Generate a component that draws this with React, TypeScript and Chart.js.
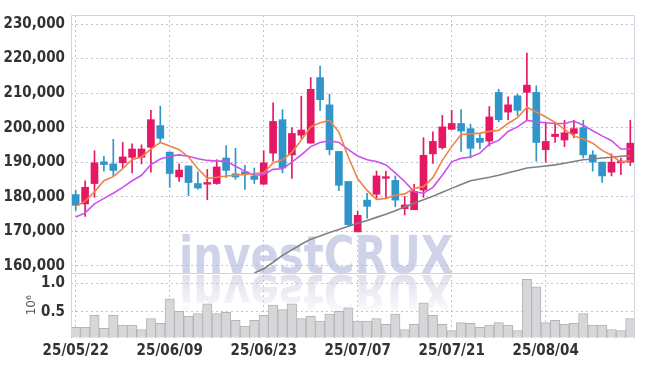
import { useEffect, useRef } from 'react';
import { Chart, registerables } from 'chart.js';
Chart.register(...registerables);

const dates = ['25/05/22','25/05/23','25/05/26','25/05/27','25/05/28','25/05/29','25/05/30','25/06/02','25/06/04','25/06/05',
'25/06/09','25/06/10','25/06/11','25/06/12','25/06/13','25/06/16','25/06/17','25/06/18','25/06/19','25/06/20',
'25/06/23','25/06/24','25/06/25','25/06/26','25/06/27','25/06/30','25/07/01','25/07/02','25/07/03','25/07/04',
'25/07/07','25/07/08','25/07/09','25/07/10','25/07/11','25/07/14','25/07/15','25/07/16','25/07/17','25/07/18',
'25/07/21','25/07/22','25/07/23','25/07/24','25/07/25','25/07/28','25/07/29','25/07/30','25/07/31','25/08/01',
'25/08/04','25/08/05','25/08/06','25/08/07','25/08/08','25/08/11','25/08/12','25/08/13','25/08/14','25/08/18'];

const opens = [180600,177900,183800,190100,189500,189800,191400,191400,194300,200600,
192900,185700,188900,183800,183600,183800,191200,186600,187200,186000,
183600,192600,202300,192100,197800,195500,214500,206600,193100,184400,
169800,179000,180700,185300,184700,176500,176200,181900,192400,194200,
199500,201200,199700,196900,196100,210200,204500,209200,210200,210200,
193600,197400,196400,198300,200000,192100,190000,187100,189800,190000];

const highs = [181900,184600,193300,191700,196600,195700,195300,195000,205000,206200,
192900,189500,188900,187200,187900,190700,194800,194000,189100,188300,
193300,207200,205200,200000,209100,214500,217800,209700,193100,184400,
175800,181000,187400,187400,186000,180100,183600,197100,198800,203500,
205000,205200,201000,198100,206100,211100,208900,209700,221600,212100,
201400,201400,202100,202100,202100,193300,190000,192400,191200,202100];

const lows = [176000,174300,179800,187400,186000,188300,186900,189500,187100,196000,
182700,184400,180300,182200,179100,183600,185500,185000,182100,183800,
183600,190300,186900,185300,196900,195500,205000,192100,181700,171300,
169800,173800,179500,179500,177100,174700,176200,179800,189600,193800,
199500,193100,191200,193800,194700,201700,202300,203500,202100,190300,
190000,195700,194500,197100,191200,187400,184100,186000,186400,189000];

const closes = [177500,182700,189800,189300,187600,191500,193800,193800,202300,196900,
186700,187700,184100,182500,184100,188600,187600,185700,186400,185000,
189800,201800,188300,198300,199300,211100,208100,193600,183300,171900,
174600,177200,186000,185800,179000,177600,181500,192000,196000,200200,
201200,199000,194000,195700,203100,202300,206600,205000,212300,195700,
196000,198100,198500,199700,192100,190000,186000,190000,190300,195500];

const ma5 = [177200,178700,181400,184600,185800,188100,190700,191500,193800,195700,
194700,193600,191500,188100,185300,185600,186000,186200,186400,186700,
186900,189800,190700,192800,196400,200200,201400,202100,198700,191500,
185200,181800,179200,179500,180400,180800,182400,182900,185500,190500,
194500,198000,198200,198400,198900,199200,201200,202900,205900,204500,
203100,201500,199500,197600,196700,195500,193400,192000,190000,190500];

const ma10 = [174100,175300,177900,179500,181000,182700,184600,186200,189300,190900,
191700,192100,191700,191000,190500,190300,190300,188800,187400,186200,
186400,187900,188100,190000,192100,194500,195700,196200,195700,193600,
191800,190700,190200,189200,186900,184400,181400,181000,182700,186200,
190100,191100,191500,192600,195200,196300,198900,200200,202100,201700,
201400,201200,201200,201900,200700,199100,197600,196200,193800,193800];

const ma60 = [null,null,null,null,null,null,null,null,null,null,
null,null,null,null,null,null,null,null,null,157900,
159100,161000,163000,164600,166200,167700,168600,169600,170500,171400,
172300,173100,174000,174900,175900,177000,178100,179100,180100,181300,
182400,183500,184600,185100,185600,186200,186900,187600,188300,188600,
188900,189200,189700,190200,190700,190900,191200,191400,191700,191900];

// volume in millions (10^6)
const volumes = [0.23,0.23,0.44,0.21,0.44,0.27,0.27,0.19,0.38,0.30,
0.73,0.51,0.42,0.47,0.64,0.47,0.49,0.35,0.25,0.35,
0.44,0.62,0.54,0.64,0.38,0.42,0.34,0.46,0.51,0.57,
0.34,0.34,0.38,0.28,0.46,0.19,0.28,0.66,0.44,0.28,
0.17,0.31,0.30,0.23,0.27,0.31,0.27,0.17,1.07,0.94,
0.31,0.35,0.28,0.30,0.47,0.27,0.27,0.19,0.17,0.38];

const priceTicks = [160000,170000,180000,190000,200000,210000,220000,230000];
const volumeTicks = [0.5,1.0];

const UP = 'rgb(230,24,100)';
const DOWN = 'rgb(48,150,202)';
const GRID = 'rgba(185,190,215,0.9)';
const FRAME = '#d2d3dc';
const FONT = '"Liberation Sans Narrow", "DejaVu Sans Condensed", "Roboto Condensed", sans-serif';

const overlayPlugin = {
  id: 'overlay',
  beforeDatasetsDraw(chart: any) {
    const { ctx, chartArea } = chart;
    const yScale = chart.scales.y;
    const base = yScale.bottom;
    const text = 'investCRUX';
    ctx.save();
    ctx.beginPath();
    ctx.rect(chartArea.left, chartArea.top, chartArea.right - chartArea.left, chartArea.bottom - chartArea.top);
    ctx.clip();
    ctx.font = 'bold 52px "DejaVu Sans", sans-serif';
    ctx.textBaseline = 'alphabetic';
    ctx.textAlign = 'left';
    const w = ctx.measureText(text).width;
    const targetW = 274;
    const sx = targetW / w;
    const x0 = chartArea.left + 108;
    ctx.save();
    ctx.translate(x0, base - 0.5);
    ctx.scale(sx, 1);
    ctx.fillStyle = 'rgba(170,180,218,0.58)';
    ctx.fillText(text, 0, 0);
    ctx.restore();
    ctx.save();
    ctx.translate(x0, base + 1.5);
    ctx.scale(sx, -1);
    const g = ctx.createLinearGradient(0, 0, 0, -40);
    g.addColorStop(0, 'rgba(190,192,215,0.5)');
    g.addColorStop(0.75, 'rgba(200,200,222,0.2)');
    g.addColorStop(1, 'rgba(210,210,230,0.0)');
    ctx.fillStyle = g;
    ctx.fillText(text, 0, 0);
    ctx.restore();
    ctx.restore();
  },
  afterDraw(chart: any) {
    const { ctx, chartArea } = chart;
    const yScale = chart.scales.y;
    ctx.save();
    ctx.strokeStyle = FRAME;
    ctx.lineWidth = 1;
    ctx.beginPath();
    const L = Math.round(chartArea.left) + 0.5;
    const R = Math.round(chartArea.right) - 0.5;
    const T = Math.round(chartArea.top) + 0.5;
    const B = Math.round(chartArea.bottom) - 0.5;
    const S = Math.round(yScale.bottom) + 0.5;
    ctx.moveTo(L, B); ctx.lineTo(L, T); ctx.lineTo(R, T); ctx.lineTo(R, B);
    ctx.moveTo(L, S); ctx.lineTo(R, S);
    ctx.stroke();
    ctx.restore();
  },
};

export default function App() {
  const ref = useRef<HTMLCanvasElement | null>(null);
  useEffect(() => {
    if (!ref.current) return;
    const colors = opens.map((o, i) => (closes[i] >= o ? UP : DOWN));
    const bodies = opens.map((o, i) => [Math.min(o, closes[i]), Math.max(o, closes[i])]);
    const wicks = lows.map((l, i) => [l, highs[i]]);
    const tickFont = { family: FONT, size: 15, weight: 'bold' as const };
    const chart = new Chart(ref.current, {
      type: 'bar',
      data: {
        labels: dates,
        datasets: [
          { type: 'line', label: 'MA5', data: ma5, yAxisID: 'y', borderColor: 'rgb(240,130,70)', borderWidth: 1.6, pointRadius: 0, tension: 0, order: 0 },
          { type: 'line', label: 'MA10', data: ma10, yAxisID: 'y', borderColor: 'rgb(204,80,236)', borderWidth: 1.6, pointRadius: 0, tension: 0, order: 0 },
          { type: 'line', label: 'MA60', data: ma60 as any, yAxisID: 'y', borderColor: 'rgb(128,128,128)', borderWidth: 1.6, pointRadius: 0, tension: 0, order: 0 },
          { type: 'bar', label: 'body', data: bodies as any, yAxisID: 'y', backgroundColor: colors, borderWidth: 0, barThickness: 7, grouped: false, order: 1 },
          { type: 'bar', label: 'wick', data: wicks as any, yAxisID: 'y', backgroundColor: colors, borderWidth: 0, barThickness: 1, grouped: false, order: 2 },
          { type: 'bar', label: 'volume', data: volumes, yAxisID: 'yv', backgroundColor: '#d7d7d9', borderColor: '#b4b4b8', borderWidth: 1, borderSkipped: false, barPercentage: 1, categoryPercentage: 1, grouped: false, order: 3 },
        ] as any,
      },
      options: {
        animation: false,
        responsive: false,
        maintainAspectRatio: false,
        layout: { padding: { top: 9, right: 10, left: 0, bottom: 0 } },
        plugins: { legend: { display: false }, tooltip: { enabled: false } },
        scales: {
          x: {
            type: 'category',
            offset: true,
            grid: {
              offset: false,
              drawTicks: false,
              color: (c: any) => (c.index % 10 === 0 ? GRID : 'rgba(0,0,0,0)'),
              lineWidth: 1,
            },
            border: { display: false, dash: [2, 3] },
            ticks: {
              autoSkip: false,
              maxRotation: 0,
              padding: 5,
              color: '#333',
              font: tickFont,
              callback: (_v: any, i: number) => (i % 10 === 0 ? dates[i] : ''),
            },
            afterFit: (s: any) => { s.height = 28.5; },
          },
          yv: {
            type: 'linear',
            position: 'left',
            stack: 'main',
            stackWeight: 65.5,
            min: 0.05,
            max: 1.18,
            grid: { color: GRID, drawTicks: false },
            border: { display: false, dash: [2, 3] },
            afterBuildTicks: (s: any) => { s.ticks = volumeTicks.map((v) => ({ value: v })); },
            ticks: {
              autoSkip: false,
              padding: 6,
              color: '#333',
              font: tickFont,
              callback: (v: any) => Number(v).toFixed(1),
            },
            title: { display: true, text: '10⁶', color: '#555', font: { family: '"DejaVu Sans", sans-serif', size: 12 }, padding: { top: 25, bottom: 0 } },
            afterFit: (s: any) => { s.width = 71; },
          },
          y: {
            type: 'linear',
            position: 'left',
            stack: 'main',
            stackWeight: 262.5,
            min: 157860,
            max: 232620,
            grid: { color: GRID, drawTicks: false },
            border: { display: false, dash: [2, 3] },
            afterBuildTicks: (s: any) => { s.ticks = priceTicks.map((v) => ({ value: v })); },
            ticks: {
              autoSkip: false,
              padding: 6,
              color: '#333',
              font: tickFont,
              callback: (v: any) => Number(v).toLocaleString('en-US'),
            },
            afterFit: (s: any) => { s.width = 71; },
          },
        },
      } as any,
      plugins: [overlayPlugin],
    });
    return () => chart.destroy();
  }, []);
  return (
    <div style={{ position: 'fixed', left: 0, top: 0, width: 645, height: 366, background: '#fff' }}>
      <canvas ref={ref} width={645} height={366} style={{ width: 645, height: 366 }} />
    </div>
  );
}
